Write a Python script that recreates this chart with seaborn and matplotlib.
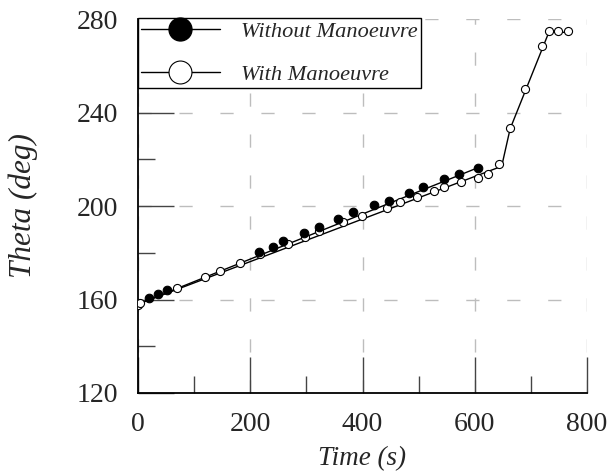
import matplotlib
matplotlib.use("Agg")
import matplotlib.pyplot as plt
from matplotlib.lines import Line2D
from matplotlib.ticker import MultipleLocator
import numpy as np
import pandas as pd
import seaborn as sns

# Measured heading angle without the avoidance manoeuvre
t_without = [20, 35, 52, 215, 240, 259, 295, 322, 357, 383, 420, 447, 483, 507, 545, 572, 605]
theta_without = [160.8, 162.3, 164.0, 180.4, 182.6, 185.2, 188.4, 190.9, 194.3, 197.3,
                 200.4, 202.3, 205.7, 208.0, 211.4, 213.7, 216.1]

# Measured heading angle with the manoeuvre
t_with = [0, 4, 70, 120, 146, 182, 218, 268, 297, 322, 366, 399, 443, 467, 497, 527, 545,
          575, 605, 624, 644, 663, 690, 720, 732, 749, 766]
theta_with = [157.6, 158.3, 165.0, 169.8, 172.2, 175.5, 179.3, 183.7, 186.6, 189.3, 193.0,
              195.9, 199.0, 201.6, 204.0, 206.4, 208.0, 210.1, 212.1, 213.8, 217.8, 233.2,
              249.9, 268.4, 275.0, 275.0, 275.0]

# Fitted trend lines
fit_t_without = [0, 610]
fit_theta_without = [158.0, 216.8]
fit_t_with = [0, 648, 663, 732, 766]
fit_theta_with = [158.0, 217.0, 233.0, 274.3, 274.3]

x_ticks = [0, 200, 400, 600, 800]
y_ticks = [120, 160, 200, 240, 280]
labels = ["Without Manoeuvre", "With Manoeuvre"]

sns.set_style("white")
plt.rcParams["font.family"] = ["Liberation Serif", "DejaVu Serif"]

fig = plt.figure(figsize=(6.09, 4.73), dpi=100)
ax = fig.add_axes([138 / 609, 1 - 393 / 473, (587 - 138) / 609, (393 - 19) / 473])

pts_without = pd.DataFrame({"t": t_without, "theta": theta_without})
pts_with = pd.DataFrame({"t": t_with, "theta": theta_with})
line_without = pd.DataFrame({"t": fit_t_without, "theta": fit_theta_without})
line_with = pd.DataFrame({"t": fit_t_with, "theta": fit_theta_with})

ax.set_xlim(0, 800)
ax.set_ylim(120, 280)
ax.xaxis.set_major_locator(MultipleLocator(200))
ax.xaxis.set_minor_locator(MultipleLocator(100))
ax.yaxis.set_major_locator(MultipleLocator(40))
ax.yaxis.set_minor_locator(MultipleLocator(20))

lw_grid = 1.0
ax.grid(True, which="major", color="#bdbdbd", linewidth=lw_grid,
        linestyle=(0, (9.5 / lw_grid, 20.0 / lw_grid)))
ax.set_axisbelow(True)

sns.lineplot(data=line_without, x="t", y="theta", ax=ax, color="black", linewidth=1.0,
             sort=False, estimator=None, zorder=3)
sns.lineplot(data=line_with, x="t", y="theta", ax=ax, color="black", linewidth=1.0,
             sort=False, estimator=None, zorder=3)
sns.scatterplot(data=pts_with, x="t", y="theta", ax=ax, marker="o", s=34,
                facecolor="white", edgecolor="black", linewidth=0.8, zorder=4)
sns.scatterplot(data=pts_without, x="t", y="theta", ax=ax, marker="o", s=38,
                color="black", edgecolor="black", linewidth=0.8, zorder=5)

for side in ["top", "right"]:
    ax.spines[side].set_visible(False)
for side in ["left", "bottom"]:
    ax.spines[side].set_color("black")
    ax.spines[side].set_linewidth(1.3)

ax.tick_params(which="major", direction="in", length=26, width=1.0, color="#444444",
               labelsize=20, pad=14, left=True, bottom=True)
ax.tick_params(which="minor", direction="in", length=12, width=1.0, color="#444444",
               left=True, bottom=True)
ax.set_xticks(x_ticks)
ax.set_yticks(y_ticks)

ax.set_xlabel("Time (s)", fontsize=19.5, fontstyle="italic", labelpad=6)
ax.set_ylabel("Theta (deg)", fontsize=22.5, fontstyle="italic", labelpad=28)

handles = [
    Line2D([0], [0], color="black", linewidth=1.0, marker="o", markersize=16.5,
           markerfacecolor="black", markeredgecolor="black"),
    Line2D([0], [0], color="black", linewidth=1.0, marker="o", markersize=16.5,
           markerfacecolor="white", markeredgecolor="black", markeredgewidth=0.8),
]
leg = ax.legend(handles, labels, loc="upper left", bbox_to_anchor=(0, 1 + 1 / 374),
                borderaxespad=0, borderpad=0.15, handlelength=3.5, handletextpad=0.95,
                labelspacing=1.0, frameon=True, fancybox=False, framealpha=1,
                edgecolor="black", prop={"size": 16.1, "style": "italic"})
leg.get_frame().set_linewidth(1.0)
leg.set_zorder(10)

fig.savefig("out.png", dpi=100)
